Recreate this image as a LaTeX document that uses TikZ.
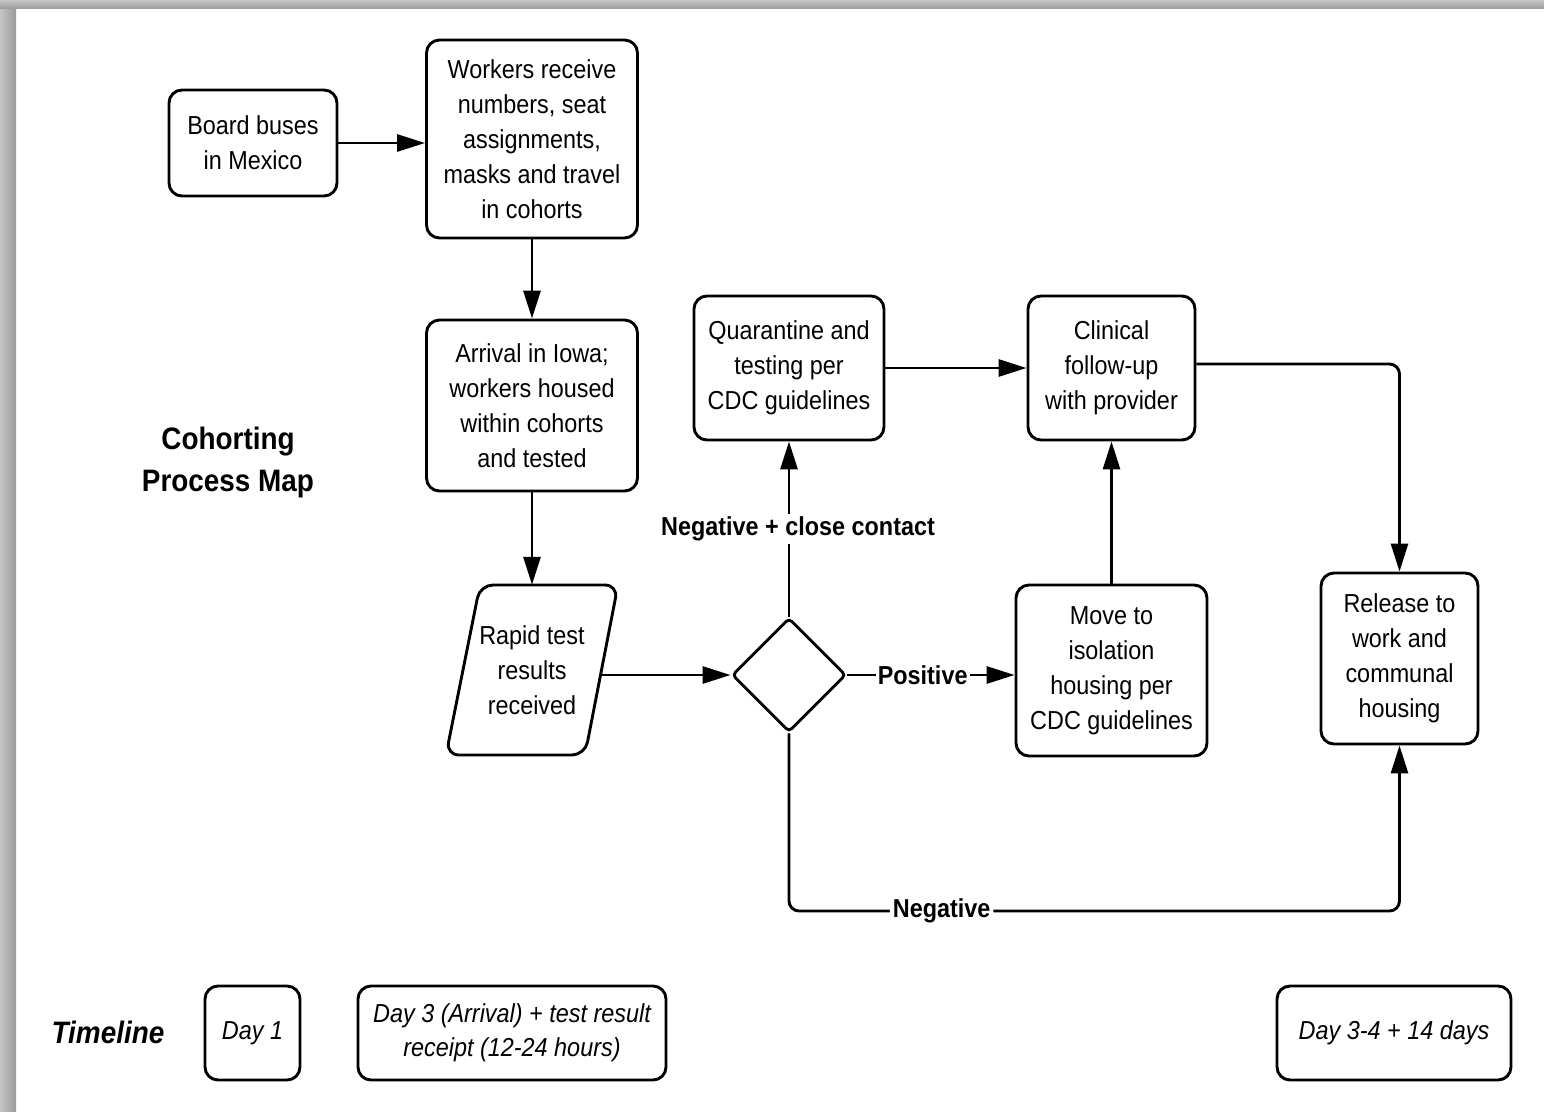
\documentclass[tikz,border=0pt]{standalone}
\usepackage{fontspec}
\setmainfont{Liberation Sans}[FakeStretch=0.9]
\usetikzlibrary{shapes.geometric,arrows.meta}
\begin{document}
\begin{tikzpicture}[x=1pt,y=-1pt,
  box/.style={draw, line width=2.9pt, rounded corners=13pt, align=center, inner sep=0pt, font=\fontsize{26}{35}\selectfont},
  dayfont/.style={font=\itshape\fontsize{26}{34}\selectfont},
  arr/.style={line width=2.9pt, -{Triangle[length=28pt,width=17pt]}},
  lbl/.style={font=\bfseries\fontsize{26}{30}\selectfont, fill=white, inner sep=3pt},
]
\useasboundingbox (0,0) rectangle (1544,1111);
\fill[white] (0,0) rectangle (1544,1111);
\shade[left color=gray!45, right color=gray!80] (0,0) rectangle (16,1111);
\shade[top color=gray!45, bottom color=gray!75] (0,0) rectangle (1544,8);

% nodes
\node[box, minimum width=168, minimum height=106] (board) at (253,143) {Board buses\\in Mexico};
\node[box, minimum width=211, minimum height=198] (workers) at (532,139) {Workers receive\\numbers, seat\\assignments,\\masks and travel\\in cohorts};
\node[box, minimum width=211, minimum height=171] (arrival) at (532,405.5) {Arrival in Iowa;\\workers housed\\within cohorts\\and tested};
\node[box, minimum width=190, minimum height=144] (quar) at (789,368) {Quarantine and\\testing per\\CDC guidelines};
\node[box, minimum width=167, minimum height=144] (clin) at (1111.5,368) {Clinical\\follow-up\\with provider};
\node[box, minimum width=191, minimum height=171] (iso) at (1111.5,670.5) {Move to\\isolation\\housing per\\CDC guidelines};
\node[box, minimum width=157, minimum height=171] (rel) at (1399.5,658.5) {Release to\\work and\\communal\\housing};

\node[align=center, font=\fontsize{26}{35}\selectfont, minimum width=172, minimum height=170, inner sep=0pt] (rapid) at (532,670) {Rapid test\\results\\received};
\draw[line width=2.9pt, rounded corners=13pt] (549,585) -- (618,585) -- (585,755) -- (446,755) -- (480,585) -- cycle;
\coordinate (rapidR) at (601,675);

\node[diamond, draw, line width=2.9pt, minimum width=114, minimum height=114, inner sep=0pt, rounded corners=4pt] (dec) at (789,675) {};

\node[font=\bfseries\fontsize{31}{42}\selectfont, align=center] (title) at (228,462) {Cohorting\\Process Map};
\node[font=\bfseries\itshape\fontsize{31}{36}\selectfont] (tl) at (108,1032) {Timeline};

\node[box, dayfont, minimum width=95, minimum height=94] (d1) at (252.5,1033) {Day 1};
\node[box, dayfont, minimum width=308, minimum height=94] (d3) at (512,1033) {Day 3 (Arrival) + test result\\receipt (12-24 hours)};
\node[box, dayfont, minimum width=234, minimum height=94] (d34) at (1394,1033) {Day 3-4 + 14 days};

% connectors
\draw[arr] (board.east) -- (board.east -| workers.west);
\draw[arr] (workers) -- (arrival);
\draw[arr] (arrival) -- (rapid);
\draw[arr] (rapidR) -- (dec.west);
\draw[arr] (dec.north) -- node[lbl, xshift=9pt]{Negative + close contact} (quar.south);
\draw[arr] (dec.east) -- node[lbl, pos=0.45, inner sep=2pt]{Positive} (dec.east -| iso.west);
\draw[arr] (iso) -- (clin);
\draw[arr] (quar) -- (clin);
\draw[arr, rounded corners=10pt] ([yshift=4pt]clin.east) -| (rel.north);
\coordinate (bl) at (dec.south |- 0,911);
\coordinate (br) at (rel.south |- 0,911);
\draw[arr, rounded corners=10pt] (dec.south) -- (bl) -- node[lbl, pos=0.25]{Negative} (br) -- (rel.south);
\end{tikzpicture}
\end{document}
